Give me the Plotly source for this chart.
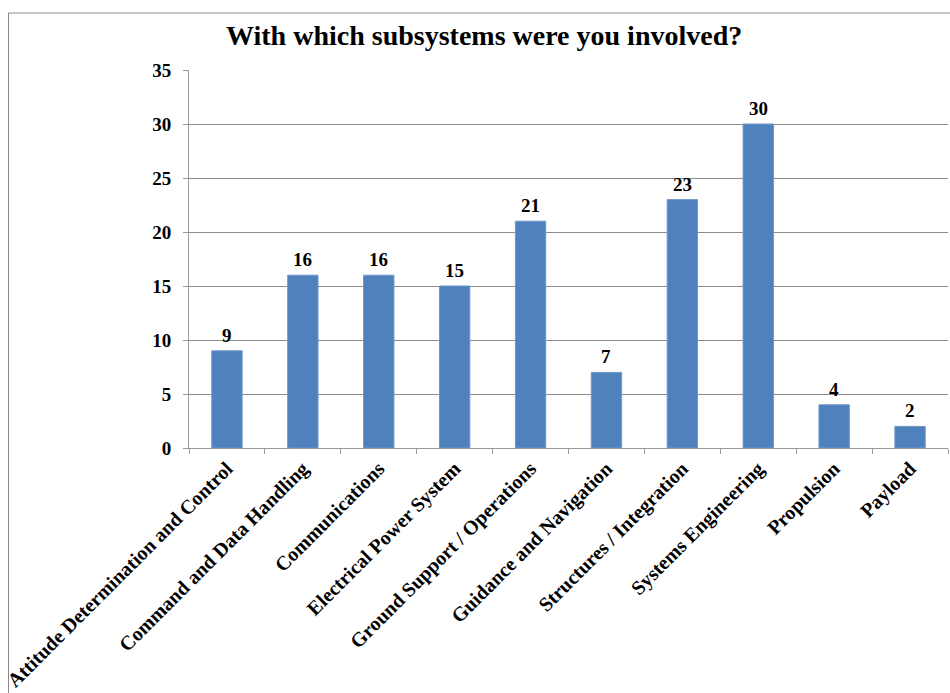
import plotly.graph_objects as go

# Survey responses: number of people involved in each subsystem
subsystems = [
    "Attitude Determination and Control",
    "Command and Data Handling",
    "Communications",
    "Electrical Power System",
    "Ground Support / Operations",
    "Guidance and Navigation",
    "Structures / Integration",
    "Systems Engineering",
    "Propulsion",
    "Payload",
]
counts = [9, 16, 16, 15, 21, 7, 23, 30, 4, 2]
y_ticks = [0, 5, 10, 15, 20, 25, 30, 35]
title_text = "With which subsystems were you involved?"

FONT = "Liberation Serif, serif"
W, H = 950, 693
L, R, T, B = 189, 2, 70, 245

fig = go.Figure(
    go.Bar(
        x=subsystems,
        y=counts,
        marker=dict(color="#4F81BD", line=dict(color="#6f97c9", width=1)),
        width=0.4,
        hoverinfo="x+y",
    )
)

# Value labels above each bar, raised a little off the bar top
for name, v in zip(subsystems, counts):
    fig.add_annotation(
        x=name, y=v, text=f"<b>{v}</b>",
        showarrow=False, yanchor="bottom", yshift=3,
        font=dict(family=FONT, size=19, color="#000000"),
    )

# Chart outline (top and left edges of the chart frame)
pw = W - L - R
ph = H - T - B
def px_x(p):
    return (p - L) / pw
def px_y(p):
    return (H - B - p) / ph

fig.add_shape(
    type="path",
    xref="paper", yref="paper",
    path=f"M {px_x(8.5)} {px_y(700)} L {px_x(8.5)} {px_y(13)} L {px_x(960)} {px_y(13)}",
    line=dict(color="#8a8a8a", width=1),
)

# Chart title as a serif bold annotation
fig.add_annotation(
    text=title_text,
    xref="paper", yref="paper",
    x=px_x(484), y=px_y(36),
    xanchor="center", yanchor="middle",
    showarrow=False,
    font=dict(family=FONT, size=28, color="#000000", weight="bold"),
)

fig.update_layout(
    width=W,
    height=H,
    margin=dict(l=L, r=R, t=T, b=B, pad=0),
    paper_bgcolor="white",
    plot_bgcolor="white",
    showlegend=False,
    bargap=0.6,
    font=dict(family=FONT, color="#000000"),
    xaxis=dict(
        type="category",
        tickangle=-45,
        tickfont=dict(family=FONT, size=20, color="#000000"),
        ticks="outside",
        tickson="boundaries",
        ticklen=5,
        tickcolor="#9a9a9a",
        showline=True,
        linecolor="#9a9a9a",
        linewidth=1,
        showgrid=False,
        tickprefix="<b>",
        ticksuffix="</b>",
    ),
    yaxis=dict(
        range=[0, 35],
        tickvals=y_ticks,
        ticktext=[f"<b>{v}</b>" for v in y_ticks],
        tickfont=dict(family=FONT, size=19, color="#000000"),
        ticks="outside",
        ticklen=5,
        tickcolor="#9a9a9a",
        ticklabelstandoff=8,
        showline=True,
        linecolor="#9a9a9a",
        linewidth=1,
        showgrid=True,
        gridcolor="#8c8c8c",
        gridwidth=1,
        zeroline=False,
    ),
)

fig.write_html("out.html")
